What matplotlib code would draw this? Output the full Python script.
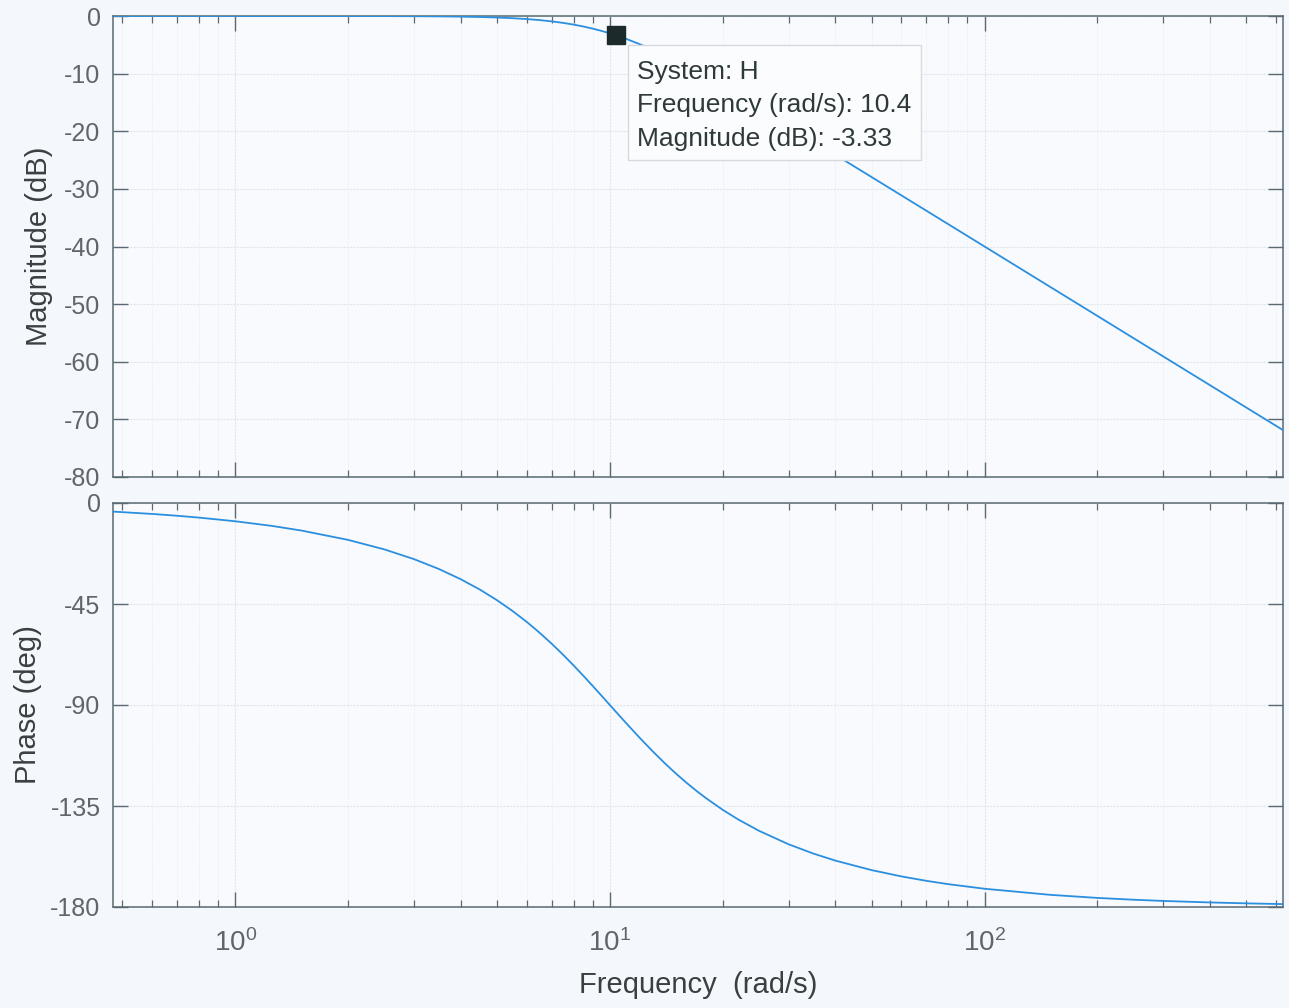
import matplotlib
matplotlib.use("Agg")
import matplotlib.pyplot as plt
from matplotlib.patches import Rectangle
from matplotlib.ticker import LogLocator, NullFormatter, FixedLocator, FuncFormatter
import math

plt.rcParams['font.family'] = ['Liberation Sans', 'DejaVu Sans']
plt.rcParams['mathtext.fontset'] = 'custom'
plt.rcParams['mathtext.rm'] = 'Liberation Sans'
plt.rcParams['mathtext.it'] = 'Liberation Sans'
plt.rcParams['axes.unicode_minus'] = False

# ---- data ----
freq = [0.472, 0.6, 0.7, 0.8, 1.0, 1.25, 1.5, 2.0, 2.5, 3.0, 3.5, 4.0, 4.5, 5.0,
        5.5, 6.0, 6.5, 7.0, 7.5, 8.0, 8.5, 9.0, 9.5, 9.75, 10.0, 10.25, 10.5, 11.0,
        12.0, 13.0, 14.0, 15.0, 16.0, 17.0, 18.0, 20.0, 22.0, 25.0, 30.0, 35.0,
        40.0, 50.0, 60.0, 70.0, 80.0, 100.0, 150.0, 200.0, 250.0, 300.0, 400.0,
        500.0, 626.0]
mag_db = [0.000, 0.000, 0.000, 0.000, -0.0004, -0.001, -0.002, -0.007, -0.017,
          -0.035, -0.065, -0.110, -0.175, -0.263, -0.380, -0.530, -0.713, -0.934,
          -1.194, -1.492, -1.824, -2.191, -2.588, -2.796, -3.010, -3.230, -3.455,
          -3.917, -4.876, -5.861, -6.850, -7.826, -8.781, -9.709, -10.606, -12.304,
          -13.878, -16.027, -19.138, -21.792, -24.099, -27.966, -31.129, -33.806,
          -36.125, -40.000, -47.044, -52.041, -55.918, -59.085, -64.082, -67.959,
          -71.863]
phase_deg = [-3.83, -4.87, -5.68, -6.50, -8.13, -10.18, -12.25, -16.42, -20.66,
             -25.00, -29.43, -33.96, -38.59, -43.32, -48.12, -52.97, -57.86, -62.75,
             -67.58, -72.35, -77.00, -81.51, -85.85, -87.95, -90.00, -92.00, -93.95,
             -97.69, -104.54, -110.57, -115.87, -120.51, -124.58, -128.17, -131.34,
             -136.68, -140.98, -146.04, -152.06, -156.25, -159.34, -163.58, -166.37,
             -168.35, -169.82, -171.87, -174.59, -175.95, -176.76, -177.30, -177.97,
             -178.38, -178.71]
tip_freq = 10.4
tip_mag = -3.33
tip_lines = ["System: H", "Frequency (rad/s): 10.4", "Magnitude (dB): -3.33"]
mag_ticks = [0, -10, -20, -30, -40, -50, -60, -70, -80]
phase_ticks = [0, -45, -90, -135, -180]
x_range = (0.472, 626.0)

W, H = 1289, 1008
fig = plt.figure(figsize=(W / 100, H / 100), dpi=100)
bg = '#f4f7fb'
fig.patch.set_facecolor(bg)

line_col = '#2b8fe0'
spine_col = '#5b6a72'
tick_col = '#5f666b'
label_col = '#3a4042'
grid_col = '#e0e6ed'

ax1 = fig.add_axes([113 / W, 1 - 477 / H, 1170 / W, 461 / H])
ax2 = fig.add_axes([113 / W, 1 - 907 / H, 1170 / W, 404 / H])


def pow_fmt(v, pos):
    e = int(round(math.log10(v)))
    return r'$\mathregular{10^{%d}}$' % e


for ax in (ax1, ax2):
    ax.set_facecolor('#f8fafd')
    ax.set_xscale('log')
    ax.set_xlim(*x_range)
    ax.xaxis.set_major_locator(LogLocator(base=10, numticks=10))
    ax.xaxis.set_major_formatter(FuncFormatter(pow_fmt))
    ax.xaxis.set_minor_locator(LogLocator(base=10, subs=[2, 3, 4, 5, 6, 7, 8, 9], numticks=20))
    ax.xaxis.set_minor_formatter(NullFormatter())
    ax.tick_params(which='major', direction='in', length=11, width=1.0, color=spine_col,
                   top=True, right=True, labelsize=18, labelcolor=tick_col, pad=9)
    ax.tick_params(which='minor', direction='in', length=5, width=0.9, color=spine_col,
                   top=True, right=True)
    ax.tick_params(axis='y', which='minor', left=False, right=False)
    for s in ax.spines.values():
        s.set_color(spine_col)
        s.set_linewidth(1.1)
    ax.grid(True, which='major', color=grid_col, linewidth=0.8, linestyle=(0, (2, 1)))
    ax.grid(True, which='minor', axis='x', color=grid_col, linewidth=0.6, linestyle=(0, (1, 2)))
    ax.set_axisbelow(True)

# magnitude
ax1.plot(freq, mag_db, color=line_col, linewidth=1.3, zorder=3)
ax1.set_ylim(-80, 0)
ax1.yaxis.set_major_locator(FixedLocator(mag_ticks))
ax1.tick_params(axis='x', labelbottom=False)
ax1.set_ylabel('Magnitude (dB)', fontsize=21, color=label_col)
ax1.yaxis.set_label_coords(-0.0513, 0.5)
ax1.plot([tip_freq], [tip_mag], marker='s', markersize=13, color='#1c2a2b',
         markeredgecolor='#1c2a2b', zorder=6, clip_on=False)

# data tip box
box = Rectangle((0.4402, 0.6876), 0.2504, 0.2495, transform=ax1.transAxes,
                facecolor='#fbfcfd', edgecolor='#d6dadd', linewidth=1.0, zorder=5)
ax1.add_patch(box)
for txt, yy in zip(tip_lines, [0.8785, 0.8070, 0.7330]):
    ax1.text(0.4479, yy, txt, transform=ax1.transAxes, fontsize=19, color='#2f3a38',
             va='center', ha='left', zorder=7)

# phase
ax2.plot(freq, phase_deg, color=line_col, linewidth=1.3, zorder=3)
ax2.set_ylim(-180, 0)
ax2.yaxis.set_major_locator(FixedLocator(phase_ticks))
ax2.tick_params(axis='x', which='major', pad=16, labelsize=20)
ax2.set_ylabel('Phase (deg)', fontsize=21, color=label_col)
ax2.yaxis.set_label_coords(-0.0607, 0.5)
ax2.set_xlabel('Frequency  (rad/s)', fontsize=21, color=label_col, labelpad=10)

fig.savefig('out.png', dpi=100, facecolor=bg)
